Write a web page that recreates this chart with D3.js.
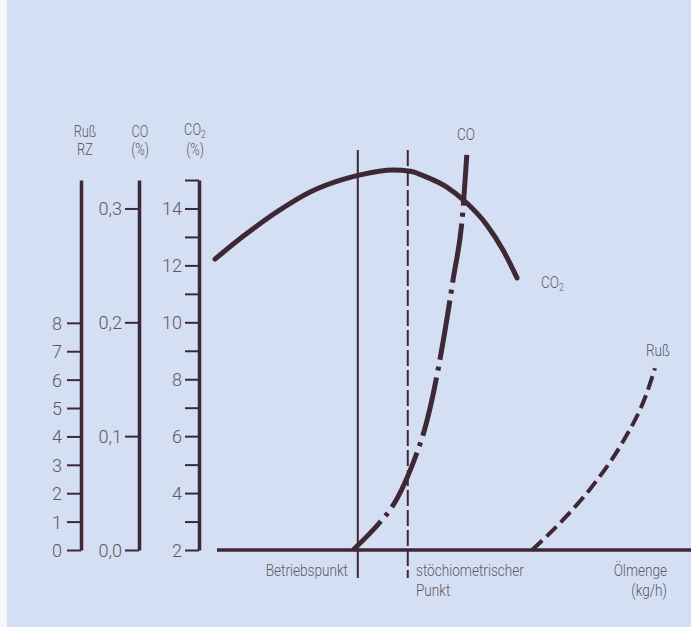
<!DOCTYPE html>
<html>
<head>
<meta charset="utf-8">
<script src="https://cdn.jsdelivr.net/npm/d3@7"></script>
<style>
	body { margin: 0; background: #fff; }
	svg { display: block; }
</style>
</head>
<body>
<div id="chart"></div>
<script>
// Data (Ölmenge in arbitrary units 0..100)
const co2_x = [0, 5.9, 13.0, 20.0, 26.9, 30.5, 37.4, 41.0, 44.5, 48.7, 52.9, 57.1, 60.5, 63.45];
const co2_val = [12.22, 13.02, 13.88, 14.58, 15.02, 15.18, 15.35, 15.31, 15.1, 14.75, 14.19, 13.42, 12.54, 11.56];

const co_x = [29.0, 34.7, 37.2, 42.4, 43.7, 50.0, 52.1, 52.9];
const co_val = [0.0, 0.0246, 0.0378, 0.0852, 0.101, 0.237, 0.299, 0.347];

const russ_x = [66.6, 73.5, 80.25, 85.5, 90.76, 92.44];
const russ_val = [0, 1.13, 2.46, 3.76, 5.55, 6.4];

const betriebspunkt_x = 30.0;
const stoech_x = 40.5;

const russ_ticks = [0, 1, 2, 3, 4, 5, 6, 7, 8];
const co_ticks = [0, 0.1, 0.2, 0.3];
const co2_ticks = [2, 3, 4, 5, 6, 7, 8, 9, 10, 11, 12, 13, 14, 15];
const co2_labels = [2, 4, 6, 8, 10, 12, 14];

const width = 691;
const height = 627;
const ink = '#3f2836';
const text_col = '#5c5864';
const font = "Roboto, 'Liberation Sans', sans-serif";

const svg = d3.select('#chart')
	.append('svg')
	.attr('width', width)
	.attr('height', height)
	.attr('viewBox', [0, 0, width, height]);

// background
svg.append('rect').attr('width', width).attr('height', height).attr('fill', '#d4dff3');
svg.append('rect').attr('width', 7).attr('height', height).attr('fill', '#f4f6fa');

// Scales
const x = d3.scaleLinear().domain([0, 100]).range([215, 691]);
const y_russ = d3.scaleLinear().domain([0, 13.03]).range([550, 180]);
const y_co = d3.scaleLinear().domain([0, 0.325]).range([550, 180]);
const y_co2 = d3.scaleLinear().domain([2, 15]).range([550, 180]);

const de = d3.formatLocale({ decimal: ',', thousands: '.', grouping: [3], currency: ['', '€'] });

function style_axis(g) {
	g.select('.domain').attr('stroke', ink).attr('stroke-width', 3.5);
	g.selectAll('.tick line').attr('stroke', ink).attr('stroke-width', 2);
	g.selectAll('.tick text')
		.attr('fill', text_col)
		.attr('dy', '0.36em')
		.style('font-family', font)
		.style('font-weight', 300)
		.style('font-size', '18px');
}

// Ruß axis
svg.append('g')
	.attr('transform', 'translate(81,0)')
	.call(d3.axisLeft(y_russ).tickValues(russ_ticks).tickSize(14).tickSizeOuter(0).tickPadding(5))
	.call(style_axis);

// CO axis
svg.append('g')
	.attr('transform', 'translate(139,0)')
	.call(d3.axisLeft(y_co).tickValues(co_ticks).tickSize(14).tickSizeOuter(0).tickPadding(3)
		.tickFormat(de.format('.1f')))
	.call(style_axis);

// CO2 axis
svg.append('g')
	.attr('transform', 'translate(199,0)')
	.call(d3.axisLeft(y_co2).tickValues(co2_ticks).tickSize(14).tickSizeOuter(0).tickPadding(3)
		.tickFormat((d) => (co2_labels.includes(d) ? d : '')))
	.call(style_axis);

// condensed label helper
function label(xp, yp, txt, anchor, sub, size) {
	const t = svg.append('text')
		.attr('transform', 'translate(' + [xp, yp] + ') scale(0.8,1)')
		.attr('text-anchor', anchor || 'middle')
		.attr('fill', text_col)
		.style('font-family', font)
		.style('font-weight', 300)
		.style('font-size', (size || 17) + 'px')
		.text(txt);
	if (sub) {
		t.append('tspan').style('font-size', '11px').attr('dy', 3).text(sub);
	}
	return t;
}

// Axis headers
label(85, 137, 'Ruß', 'middle', null, 16);
label(85, 155, 'RZ', 'middle', null, 16);
label(140, 137, 'CO', 'middle', null, 16);
label(140, 155, '(%)', 'middle', null, 16);
label(195, 135, 'CO', 'middle', '2', 16);
label(195, 155, '(%)', 'middle', null, 16);

// X axis line
svg.append('line')
	.attr('x1', 217).attr('x2', width)
	.attr('y1', y_co2(2)).attr('y2', y_co2(2))
	.attr('stroke', ink).attr('stroke-width', 3.5);

// Vertical reference lines
svg.append('line')
	.attr('x1', x(betriebspunkt_x)).attr('x2', x(betriebspunkt_x))
	.attr('y1', 150).attr('y2', 578)
	.attr('stroke', ink).attr('stroke-width', 2);

svg.append('line')
	.attr('x1', x(stoech_x)).attr('x2', x(stoech_x))
	.attr('y1', 150).attr('y2', 578)
	.attr('stroke', ink).attr('stroke-width', 2)
	.attr('stroke-dasharray', '16 4');

// Curves
const co2_line = d3.line().x((d, i) => x(co2_x[i])).y((d) => y_co2(d)).curve(d3.curveMonotoneX);
svg.append('path')
	.attr('d', co2_line(co2_val))
	.attr('fill', 'none').attr('stroke', ink).attr('stroke-width', 5)
	.attr('stroke-linecap', 'round');

const co_line = d3.line().x((d, i) => x(co_x[i])).y((d) => y_co(d)).curve(d3.curveMonotoneX);
svg.append('path')
	.attr('d', co_line(co_val))
	.attr('fill', 'none').attr('stroke', ink).attr('stroke-width', 5)
	.attr('stroke-dasharray', '40 7 4 7 60 7 4 7 60 7 4 7 60 7 4 7 60 7 4 7 90');

const russ_line = d3.line().x((d, i) => x(russ_x[i])).y((d) => y_russ(d)).curve(d3.curveMonotoneX);
svg.append('path')
	.attr('d', russ_line(russ_val))
	.attr('fill', 'none').attr('stroke', ink).attr('stroke-width', 4)
	.attr('stroke-dasharray', '14 6');

// Curve labels
label(466, 140, 'CO');
label(541, 288, 'CO', 'start', '2');
label(658, 356, 'Ruß');

label(348, 576, 'Betriebspunkt', 'end');
label(416, 576, 'stöchiometrischer', 'start');
label(416, 596, 'Punkt', 'start');
label(667, 576, 'Ölmenge', 'end');
label(667, 596, '(kg/h)', 'end');
</script>
</body>
</html>
